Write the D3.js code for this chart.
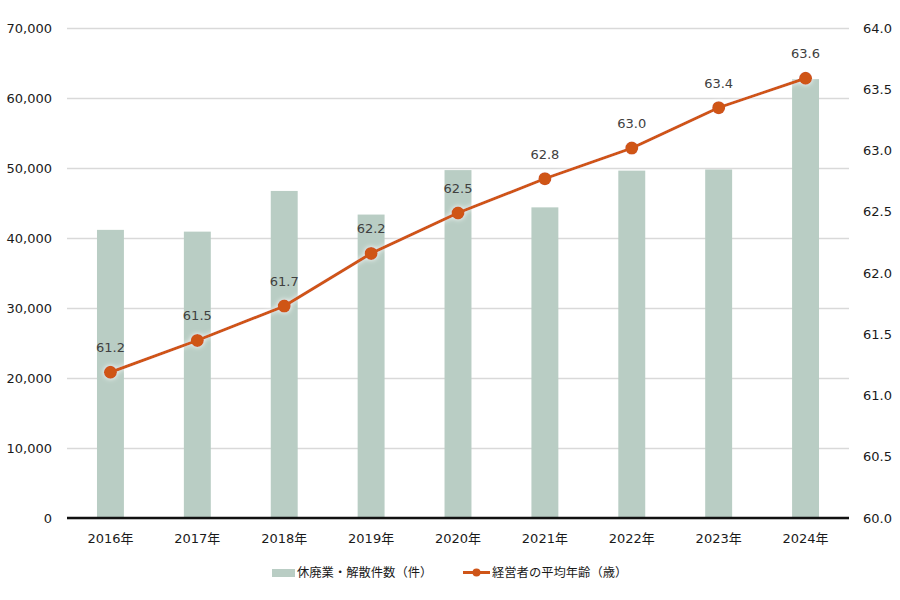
<!DOCTYPE html>
<html>
<head>
<meta charset="utf-8">
<script src="https://cdn.jsdelivr.net/npm/d3@7"></script>
<style>
  html, body { margin: 0; padding: 0; background: #fff; }
  svg text { font-family: "DejaVu Sans", Verdana, "Noto Sans CJK JP", sans-serif; }
  .jp { font-family: "DejaVu Sans", "Noto Sans CJK JP", sans-serif; }
</style>
</head>
<body>
<script>
  // data
  let years = ["2016年","2017年","2018年","2019年","2020年","2021年","2022年","2023年","2024年"];
  let closures = [41162, 40909, 46724, 43348, 49698, 44377, 49625, 49788, 62695];
  let avgAge = [61.19, 61.45, 61.73, 62.16, 62.49, 62.77, 63.02, 63.35, 63.59];
  let ageLabels = ["61.2","61.5","61.7","62.2","62.5","62.8","63.0","63.4","63.6"];
  let leftTicks = [0,10000,20000,30000,40000,50000,60000,70000];
  let rightTicks = [60,60.5,61,61.5,62,62.5,63,63.5,64];
  let legendNames = ["休廃業・解散件数（件）","経営者の平均年齢（歳）"];

  let WIDTH = 900, HEIGHT = 600;
  let M = {left: 67, right: 51, top: 28, bottom: 82};

  let svg = d3.select("body").append("svg")
      .attr("width", WIDTH).attr("height", HEIGHT);

  // soft light glow round the line and dots
  let defs = svg.append("defs");
  let f = defs.append("filter").attr("id","glow")
      .attr("x","-50%").attr("y","-50%").attr("width","200%").attr("height","200%");
  f.append("feDropShadow").attr("dx",0).attr("dy",0)
      .attr("stdDeviation",2.5).attr("flood-color","#ffffff").attr("flood-opacity",0.95);

  let x = d3.scaleBand().domain(years)
      .range([M.left, WIDTH - M.right]).paddingInner(0.69).paddingOuter(0.345);
  let yL = d3.scaleLinear().domain([0,70000]).range([HEIGHT - M.bottom, M.top]);
  let yR = d3.scaleLinear().domain([60,64]).range([HEIGHT - M.bottom, M.top]);

  // gridlines
  svg.append("g")
    .attr("transform", `translate(${M.left},0)`)
    .call(d3.axisLeft(yL).tickValues(leftTicks).tickSize(-(WIDTH - M.left - M.right))
          .tickFormat(d3.format(",")).tickPadding(15))
    .call(g => g.select(".domain").remove())
    .call(g => g.selectAll(".tick line").attr("stroke","#d9d9d9").attr("stroke-width",1.5))
    .call(g => g.selectAll(".tick text").attr("fill","#1a1a1a").attr("font-size",13));

  svg.append("g")
    .attr("transform", `translate(${WIDTH - M.right},0)`)
    .call(d3.axisRight(yR).tickValues(rightTicks).tickSize(0)
          .tickFormat(d3.format(".1f")).tickPadding(14))
    .call(g => g.select(".domain").remove())
    .call(g => g.selectAll(".tick text").attr("fill","#1a1a1a").attr("font-size",13));

  // bars
  svg.selectAll("rect.bar")
    .data(closures)
    .enter().append("rect")
    .classed("bar", true)
    .attr("x", (d,i) => x(years[i]))
    .attr("width", x.bandwidth())
    .attr("y", d => yL(d))
    .attr("height", d => yL(0) - yL(d))
    .attr("fill", "#b9cdc4");

  // x axis baseline
  svg.append("g")
    .attr("transform", `translate(0,${HEIGHT - M.bottom})`)
    .call(d3.axisBottom(x).tickSize(0).tickPadding(16))
    .call(g => g.select(".domain").attr("stroke","#111").attr("stroke-width",2.5)
          .attr("d", `M${M.left},0H${WIDTH - M.right}`))
    .call(g => g.selectAll(".tick text").attr("class","jp").attr("fill","#1a1a1a").attr("font-size",13));

  // line
  let cx = (d,i) => x(years[i]) + x.bandwidth()/2;
  let line = d3.line().x(cx).y(d => yR(d));
  let lg = svg.append("g").attr("filter","url(#glow)");
  lg.append("path").datum(avgAge)
    .attr("d", line).attr("fill","none")
    .attr("stroke","#cf5518").attr("stroke-width",3);
  lg.selectAll("circle").data(avgAge).enter().append("circle")
    .attr("cx", cx).attr("cy", d => yR(d)).attr("r", 6.5)
    .attr("fill","#cf5518");

  svg.selectAll("text.lab").data(avgAge).enter().append("text")
    .classed("lab", true)
    .attr("x", cx).attr("y", d => yR(d) - 20)
    .attr("text-anchor","middle").attr("font-size",13).attr("fill","#404040")
    .text((d,i) => ageLabels[i]);

  // legend
  let leg = svg.append("g").attr("class","jp");
  leg.append("rect").attr("x",272).attr("y",569).attr("width",23).attr("height",8).attr("fill","#b9cdc4");
  leg.append("text").attr("x",297).attr("y",577).attr("font-size",12.3).attr("fill","#1a1a1a")
    .attr("class","jp").text(legendNames[0]);
  leg.append("line").attr("x1",463).attr("x2",490).attr("y1",572.5).attr("y2",572.5)
    .attr("stroke","#cf5518").attr("stroke-width",3);
  leg.append("circle").attr("cx",476.5).attr("cy",572.5).attr("r",4).attr("fill","#cf5518");
  leg.append("text").attr("x",492).attr("y",577).attr("font-size",12.3).attr("fill","#1a1a1a")
    .attr("class","jp").text(legendNames[1]);
</script>
</body>
</html>
